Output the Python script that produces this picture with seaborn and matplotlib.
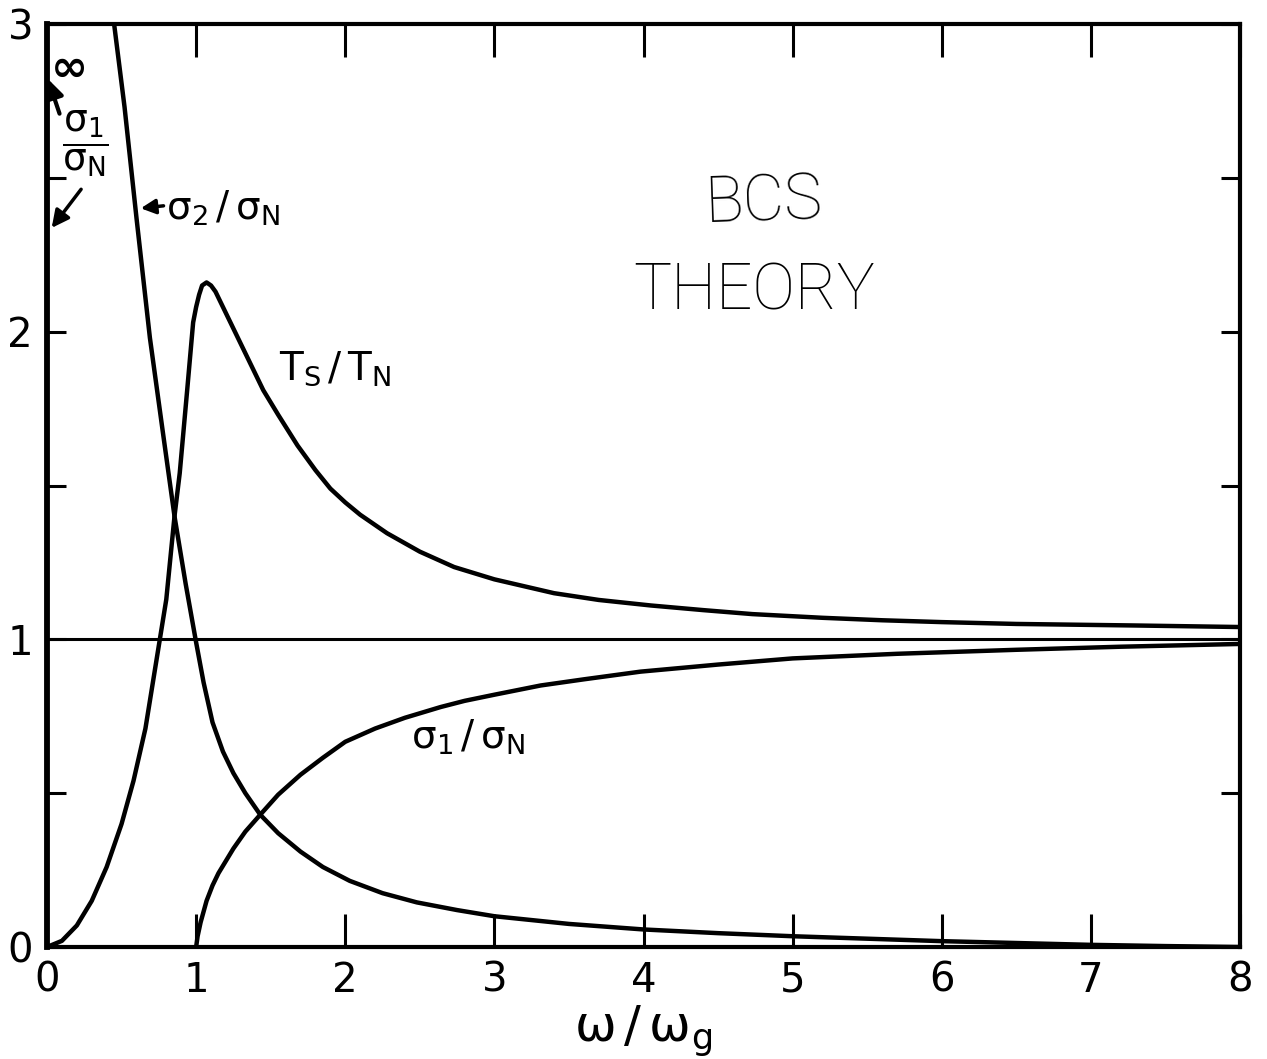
import numpy as np
import pandas as pd
import matplotlib
matplotlib.use("Agg")
import matplotlib.pyplot as plt
import seaborn as sns
from matplotlib.ticker import FixedLocator, FuncFormatter

# ---- data (omega / omega_g) ----
ts_x = [0, 0.1, 0.2, 0.3, 0.4, 0.5, 0.58, 0.66, 0.73, 0.80, 0.855, 0.89, 0.94, 0.98,
        1.0, 1.02, 1.04, 1.07, 1.10, 1.13, 1.17, 1.23, 1.29, 1.35, 1.45, 1.55, 1.68,
        1.8, 1.9, 2.0, 2.1, 2.28, 2.5, 2.73, 3.0, 3.4, 3.7, 4.05, 4.4, 4.73, 5.2, 5.6,
        6.0, 6.5, 7.3, 8.0]
ts_y = [0, 0.02, 0.07, 0.15, 0.26, 0.40, 0.54, 0.71, 0.92, 1.13, 1.40, 1.54, 1.81, 2.03,
        2.08, 2.12, 2.15, 2.16, 2.15, 2.13, 2.09, 2.03, 1.97, 1.91, 1.81, 1.73, 1.63,
        1.55, 1.49, 1.445, 1.405, 1.345, 1.285, 1.235, 1.195, 1.15, 1.128, 1.11, 1.095,
        1.082, 1.07, 1.062, 1.056, 1.05, 1.045, 1.04]

s2_x = [0.40, 0.45, 0.52, 0.60, 0.69, 0.775, 0.855, 0.93, 1.0, 1.05, 1.11, 1.18, 1.25,
        1.33, 1.43, 1.55, 1.70, 1.85, 2.03, 2.25, 2.48, 2.75, 3.0, 3.5, 4.0, 4.5, 5.0,
        5.5, 6.0, 6.5, 7.0, 7.5, 8.0]
s2_y = [3.25, 3.0, 2.73, 2.37, 1.98, 1.68, 1.40, 1.18, 0.99, 0.86, 0.73, 0.635, 0.565,
        0.50, 0.43, 0.37, 0.31, 0.26, 0.215, 0.175, 0.145, 0.12, 0.10, 0.075, 0.057,
        0.045, 0.035, 0.027, 0.019, 0.013, 0.007, 0.003, 0.0]

s1_x = [1.0, 1.01, 1.03, 1.07, 1.11, 1.15, 1.2, 1.25, 1.33, 1.43, 1.55, 1.70, 1.85, 2.0,
        2.2, 2.4, 2.64, 2.8, 3.0, 3.31, 3.6, 3.98, 4.5, 5.0, 5.7, 6.5, 7.2, 8.0]
s1_y = [0, 0.035, 0.08, 0.15, 0.20, 0.24, 0.28, 0.32, 0.375, 0.43, 0.495, 0.56, 0.615,
        0.667, 0.71, 0.745, 0.78, 0.80, 0.82, 0.85, 0.87, 0.895, 0.918, 0.938, 0.953,
        0.966, 0.976, 0.985]

ref_x = [0, 8]
ref_y = [1, 1]

x_ticks = [0, 1, 2, 3, 4, 5, 6, 7, 8]
y_ticks = [0, 0.5, 1, 1.5, 2, 2.5, 3]
y_labels = {0: "0", 1: "1", 2: "2", 3: "3"}

sns.set_theme(style="white")
plt.rcParams["font.family"] = ["DejaVu Sans"]
plt.rcParams["mathtext.fontset"] = "dejavusans"
plt.rcParams["text.color"] = "black"
plt.rcParams["axes.labelcolor"] = "black"

fig = plt.figure(figsize=(12.67, 10.59), dpi=100)
ax = fig.add_axes([47 / 1267, 112 / 1059, 1193 / 1267, 923 / 1059])

df_ts = pd.DataFrame({"x": ts_x, "y": ts_y})
df_s2 = pd.DataFrame({"x": s2_x, "y": s2_y})
df_s1 = pd.DataFrame({"x": s1_x, "y": s1_y})
df_ref = pd.DataFrame({"x": ref_x, "y": ref_y})

for d, lw in [(df_ts, 3.2), (df_s2, 3.2), (df_s1, 3.2), (df_ref, 2.2)]:
    sns.lineplot(data=d, x="x", y="y", ax=ax, color="black", lw=lw,
                 sort=False, estimator=None, solid_capstyle="butt",
                 solid_joinstyle="round")

ax.set_xlim(0, 8)
ax.set_ylim(0, 3)
ax.set_xlabel(r"$\mathregular{ω\,/\,ω_g}$", fontsize=36, labelpad=2)
ax.set_ylabel("")

for s in ax.spines.values():
    s.set_linewidth(3.0)
    s.set_color("black")
ax.spines["left"].set_linewidth(4.2)

ax.xaxis.set_major_locator(FixedLocator(x_ticks))
ax.yaxis.set_major_locator(FixedLocator(y_ticks))
ax.yaxis.set_major_formatter(FuncFormatter(lambda v, p: y_labels.get(int(v), "") if v == int(v) else ""))
ax.tick_params(axis="x", which="major", direction="in", length=24, width=2.2,
               top=True, bottom=True, labelsize=29, pad=10, colors="black")
ax.tick_params(axis="y", which="major", direction="in", length=14, width=2.2,
               left=True, right=True, labelsize=29, pad=10, colors="black")

# annotations
ax.text(0.135, 2.86, r"$\mathbf{\infty}$", fontsize=32, ha="center", va="center")
ax.annotate("", xy=(0.0, 2.83), xytext=(0.09, 2.70),
            arrowprops=dict(arrowstyle="-|>", color="black", lw=3, mutation_scale=28))
ax.text(0.26, 2.61, r"$\mathregular{\dfrac{σ_1}{σ_N}}$", fontsize=27, ha="center", va="center")
ax.annotate("", xy=(0.02, 2.33), xytext=(0.24, 2.47),
            arrowprops=dict(arrowstyle="-|>", color="black", lw=2.5, mutation_scale=26))
ax.text(0.80, 2.40, r"$\mathregular{σ_2\,/\,σ_N}$", fontsize=28, ha="left", va="center")
ax.annotate("", xy=(0.61, 2.40), xytext=(0.80, 2.41),
            arrowprops=dict(arrowstyle="-|>", color="black", lw=2.5, mutation_scale=22))
ax.text(1.93, 1.88, r"$\mathregular{T_S\,/\,T_N}$", fontsize=28, ha="center", va="center")
ax.text(2.82, 0.68, r"$\mathregular{σ_1\,/\,σ_N}$", fontsize=28, ha="center", va="center")
ax.text(4.81, 2.42, "BCS", fontsize=46, ha="center", va="center", rotation=2,
        family=["Roboto", "DejaVu Sans"], fontweight="light")
ax.text(4.74, 2.13, "THEORY", fontsize=46, ha="center", va="center",
        family=["Roboto", "DejaVu Sans"], fontweight="light")

fig.savefig("out.png", dpi=100, facecolor="white")
